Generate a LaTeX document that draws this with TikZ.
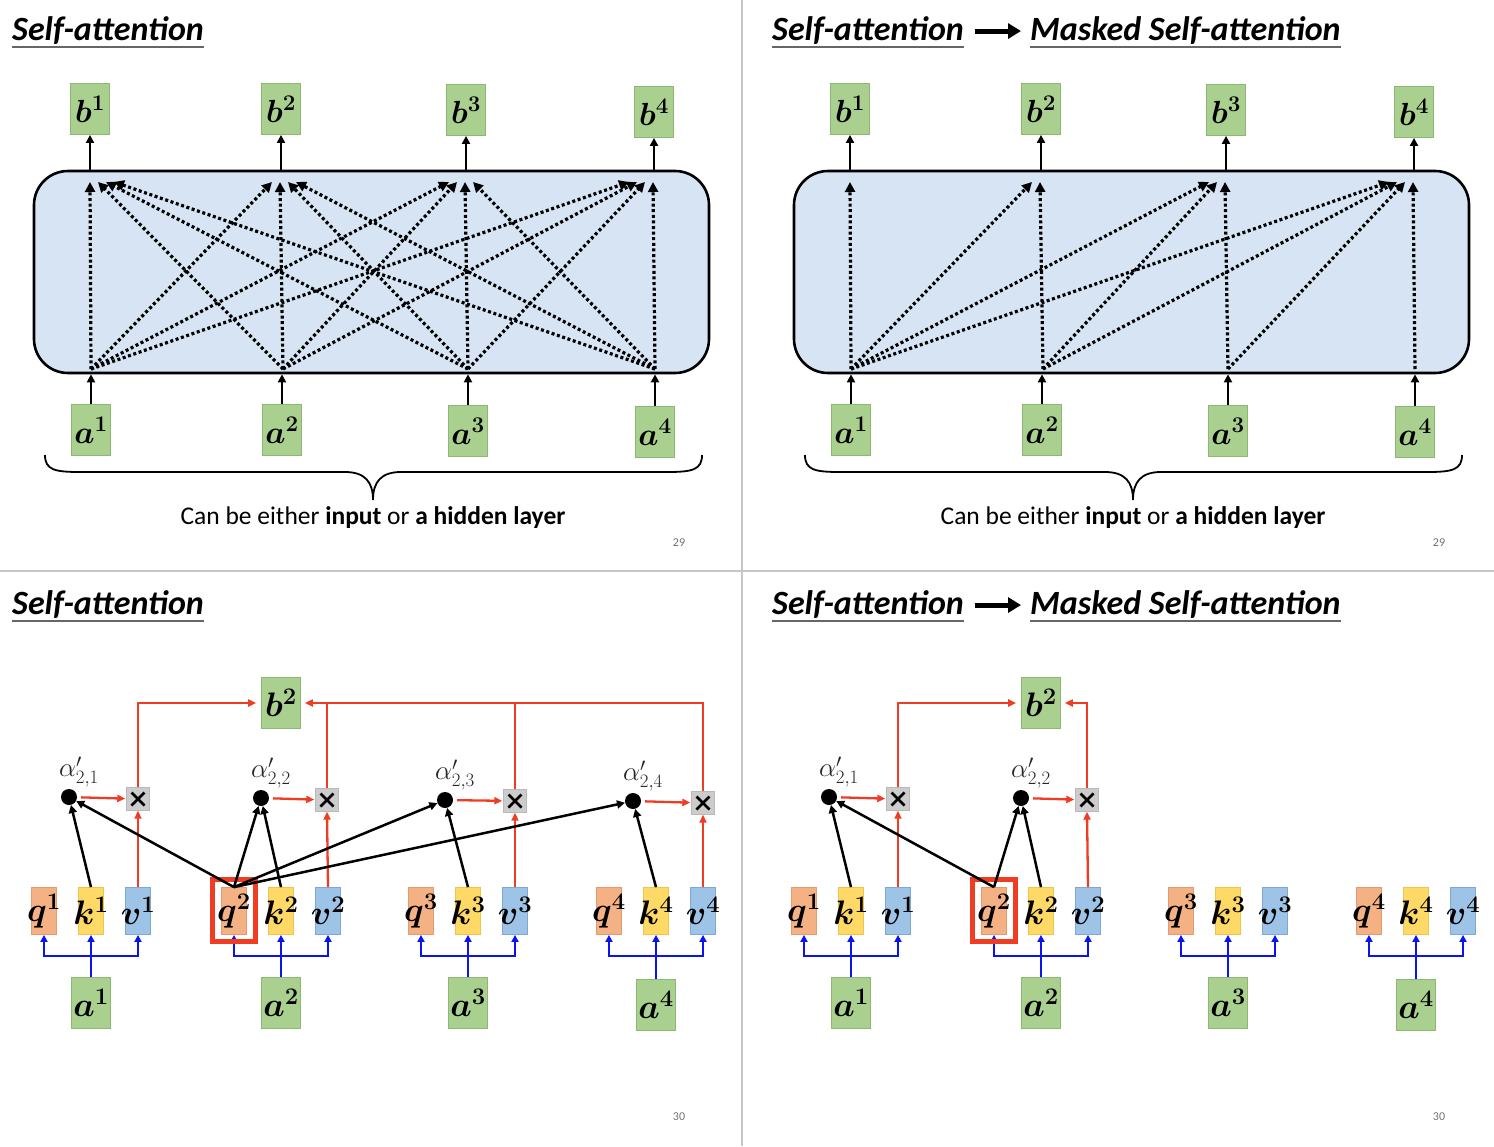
\RequirePackage{fix-cm}
\documentclass[tikz,border=0pt]{standalone}
\usepackage{amsmath}
\usepackage{fontspec}
\newfontfamily\carl{Carlito}
\usetikzlibrary{arrows.meta}
\definecolor{grn}{HTML}{A9D08E}
\definecolor{grnd}{HTML}{8DB872}
\definecolor{qcol}{HTML}{F4B183}
\definecolor{qcold}{HTML}{E39A6E}
\definecolor{kcol}{HTML}{FFD966}
\definecolor{kcold}{HTML}{EEC54C}
\definecolor{vcol}{HTML}{9DC3E6}
\definecolor{vcold}{HTML}{7FA8D6}
\definecolor{panel}{HTML}{D6E4F3}
\definecolor{rd}{HTML}{F03C22}
\definecolor{bl}{HTML}{0A14F0}
\newcommand\lbl[1]{\makebox[0pt]{$#1$}}
\begin{document}
\begin{tikzpicture}[x=1pt,y=-1pt,
  gbox/.style={draw=grnd, line width=0.8pt, fill=grn, minimum width=39pt, minimum height=51pt, inner sep=0pt},
  qbox/.style={draw=qcold, line width=0.8pt, fill=qcol, minimum width=25pt, minimum height=47pt, inner sep=0pt},
  kbox/.style={qbox, draw=kcold, fill=kcol},
  vbox/.style={qbox, draw=vcold, fill=vcol},
  xbox/.style={draw=gray!55, fill=gray!40, minimum size=23pt, inner sep=0pt,
    path picture={\draw[line width=2.6pt, black]
      ([shift={(5pt,5pt)}]path picture bounding box.south west) -- ([shift={(-5pt,-5pt)}]path picture bounding box.north east)
      ([shift={(5pt,-5pt)}]path picture bounding box.north west) -- ([shift={(-5pt,5pt)}]path picture bounding box.south east);}},
  dotn/.style={circle, fill=black, minimum size=16pt, inner sep=0pt},
  blk/.style={draw=black, line width=2.5pt, -{Triangle[width=8pt,length=8pt]}},
  dotarr/.style={draw=black, line width=3.2pt, dash pattern=on 3pt off 2.6pt, -{Triangle[width=10pt,length=10pt]}},
  rline/.style={draw=rd, line width=2.3pt},
  rarr/.style={rline, -{Triangle[width=7pt,length=8pt]}},
  barr/.style={draw=bl, line width=2.7pt, -{Triangle[width=7pt,length=7pt]}},
  ttl/.style={font=\carl\bfseries\itshape\fontsize{34}{40}\selectfont, inner sep=0pt, anchor=base west},
  uline/.style={draw=black!60, line width=1.3pt},
  alab/.style={font=\fontsize{27}{29}\selectfont, text=black!85, inner sep=0pt},
  pnum/.style={font=\carl\fontsize{12}{14}\selectfont, text=black!55},
  toplbl/.style={font=\fontsize{32}{34}\selectfont\boldmath},
  botlbl/.style={font=\fontsize{34}{36}\selectfont\boldmath}
]
\fill[white] (0,0) rectangle (1494,1146);
\useasboundingbox (0,0) rectangle (1494,1146);
\draw[gray!45, line width=1.2pt] (742,0) -- (742,1146);
\draw[gray!45, line width=1.2pt] (0,571) -- (1494,571);

% titles
\foreach \yy/\tp in {40/A,614/B}{
  \node[ttl] (\tp L) at (12,\yy) {Self-attention};
  \draw[uline] ([yshift=-7pt]\tp L.base west) -- ([yshift=-7pt]\tp L.base east);
  \node[ttl] (\tp R1) at (772,\yy) {Self-attention};
  \node[ttl] (\tp R2) at (1030,\yy) {Masked Self-attention};
  \draw[uline] ([yshift=-7pt]\tp R1.base west) -- ([yshift=-7pt]\tp R1.base east);
  \draw[uline] ([yshift=-7pt]\tp R2.base west) -- ([yshift=-7pt]\tp R2.base east);
  \draw[line width=5pt, -{Triangle[width=15pt,length=13pt]}, shorten <=11pt, shorten >=9pt] ([yshift=-1pt]\tp R1.east) -- ([yshift=-1pt]\tp R2.west);
}

% top panels
\foreach \pp/\sh/\msk in {L/0/0,R/760/1}{
 \begin{scope}[xshift=\sh pt]
  \node[draw=black, line width=2.6pt, fill=panel, rounded corners=34pt, minimum width=675pt, minimum height=202pt, inner sep=0pt] (\pp P) at (371.5,272) {};
  \foreach \i/\bx/\by/\ax/\ay in {1/90/109/91/430, 2/281/109/282/430, 3/466/110/468/431, 4/654/112/655/432}{
    \node[gbox,toplbl] (\pp b\i) at (\bx,\by) {\lbl{b^{\i}}};
    \node[gbox,toplbl] (\pp a\i) at (\ax,\ay) {\lbl{a^{\i}}};
    \draw[blk] (\pp P.north -| \pp b\i) -- (\pp b\i.south);
    \draw[blk] (\pp a\i.north) -- (\pp P.south -| \pp a\i);
  }
  \foreach \i/\ax in {1/91,2/283,3/468,4/655}{
   \coordinate (\pp s\i) at (\ax,369);
   \foreach \j/\bx in {1/90,2/280,3/465,4/653}{
     \pgfmathtruncatemacro\shw{(\msk==0)||(\j>=\i)}
     \ifnum\shw=1
       \coordinate (\pp t\i\j) at (\bx+8*\i-8*\j,182);
       \draw[dotarr] (\pp s\i) -- (\pp t\i\j);
     \fi
   }}
  \draw[line width=1.8pt] (45,455) .. controls (45,470) and (55,472) .. (80,472) -- (345,472) .. controls (365,472) and (373,482) .. (373,500) .. controls (373,482) and (381,472) .. (401,472) -- (667,472) .. controls (692,472) and (702,470) .. (702,455);
  \node[font=\carl\fontsize{25.5}{28}\selectfont, anchor=base, inner sep=0pt] (\pp txt) at (373,524) {Can be either \textbf{input} or \textbf{a hidden layer}};
  \node[pnum] (\pp num) at (679,543) {29};
 \end{scope}
}

% bottom panels
\foreach \pp/\sh/\nn in {M/0/4,N/760/2}{
 \begin{scope}[xshift=\sh pt]
  \node[gbox,botlbl] (\pp b) at (281,703) {\lbl{b^2}};
  \foreach \j/\qx/\kx/\vx/\ay in {1/44/91/138/1003, 2/234/281/328/1003, 3/421/468/515/1003, 4/609/656/703/1005}{
    \node[qbox,botlbl] (\pp q\j) at (\qx,911) {\lbl{q^{\j}}};
    \node[kbox,botlbl] (\pp k\j) at (\kx,911) {\lbl{k^{\j}}};
    \node[vbox,botlbl] (\pp v\j) at (\vx,911) {\lbl{v^{\j}}};
    \node[gbox,botlbl] (\pp a\j) at (\kx,\ay) {\lbl{a^{\j}}};
    \coordinate (\pp j\j) at (\kx,956);
    \draw[barr] (\pp a\j.north) -- (\pp k\j.south);
    \draw[barr] (\pp j\j) -| (\pp q\j.south);
    \draw[barr] (\pp j\j) -| (\pp v\j.south);
  }
  \node[draw=rd, line width=5pt, minimum width=43pt, minimum height=62pt, inner sep=0pt] (\pp h) at (234,910.5) {};
  \foreach \j/\dx/\dy/\xx/\xy in {1/69/797/138/799, 2/261/798/327/800, 3/445/800/515/801, 4/633/801/703/803}{
    \ifnum\j>\nn\relax\else
    \node[dotn] (\pp d\j) at (\dx,\dy) {};
    \node[alab] (\pp l\j) at (\dx+10,\dy-25) {$\alpha'_{2,\j}$};
    \node[xbox] (\pp x\j) at (\xx,\xy) {};
    \draw[rarr, shorten <=4pt, shorten >=1pt] (\pp d\j) -- (\pp x\j);
    \draw[rarr] (\pp v\j.north) -- (\pp x\j.south);
    \draw[blk] (\pp q2.north) -- (\pp d\j);
    \draw[blk] (\pp k\j.north) -- (\pp d\j);
    \fi
  }
  \draw[rarr, shorten >=5pt] (\pp x1.north) |- (\pp b.west);
  \draw[rarr, shorten >=4pt] (\pp x\nn.north) |- (\pp b.east);
  \ifnum\nn=4
    \draw[rline] (\pp x2.north) -- (\pp x2.north |- \pp b.east);
    \draw[rline] (\pp x3.north) -- (\pp x3.north |- \pp b.east);
  \fi
  \node[pnum] (\pp num) at (679,1117) {30};
 \end{scope}
}
\end{tikzpicture}
\end{document}
